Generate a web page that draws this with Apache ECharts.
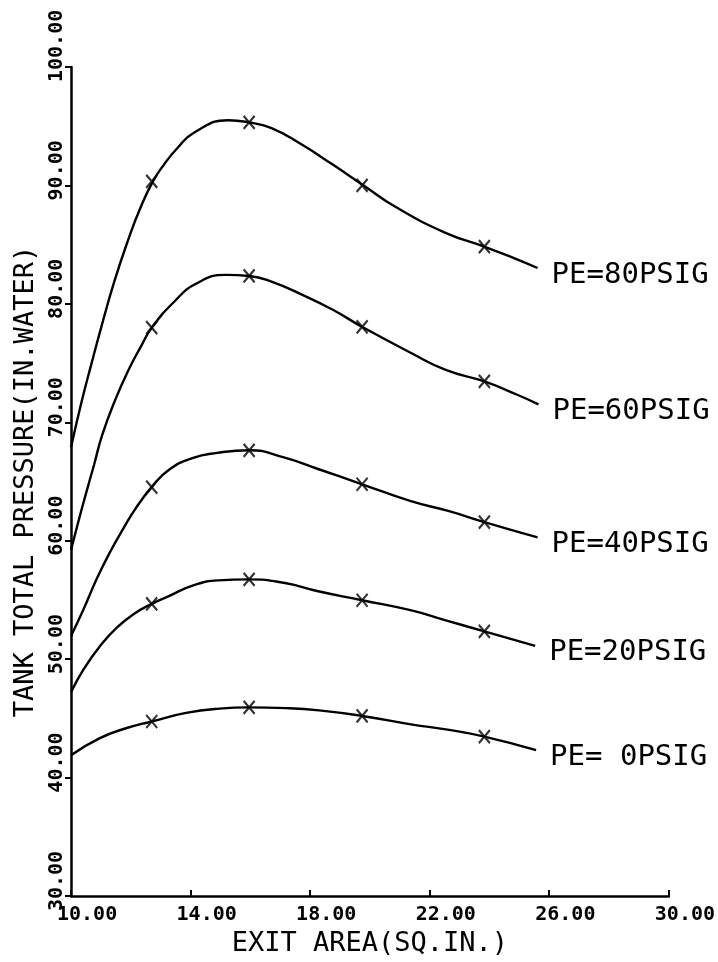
<!DOCTYPE html>
<html><head><meta charset="utf-8">
<script src="https://cdn.jsdelivr.net/npm/echarts@6/dist/echarts.min.js"></script>
<style>html,body{margin:0;padding:0;background:#fff}#c{width:718px;height:962px}</style>
</head><body><div id="c"></div>
<script>
// Tick values
const xTicks = [10, 14, 18, 22, 26, 30];
const yMin = 30, yMax = 100, yStep = 10;

// Series names (curve labels)
const names = ['PE=80PSIG', 'PE=60PSIG', 'PE=40PSIG', 'PE=20PSIG', 'PE= 0PSIG'];

// Curve traces (exit area, tank pressure)
const x80 = [10.00, 10.36, 10.69, 11.02, 11.45, 11.94, 12.32, 12.74, 13.09, 13.54, 14.15, 15.26, 15.96, 16.71, 17.72, 18.73, 19.79, 20.85, 22.53, 23.82, 24.88, 25.61];
const y80 = [67.89, 71.80, 75.00, 78.10, 81.90, 85.60, 88.10, 90.34, 91.69, 93.10, 94.51, 95.51, 95.32, 94.84, 93.45, 91.80, 90.00, 88.20, 86.00, 84.84, 83.80, 83.03];

const x60 = [10.00, 10.23, 10.50, 10.77, 11.04, 11.48, 11.92, 12.36, 12.70, 13.46, 14.18, 15.18, 15.96, 16.75, 17.76, 18.76, 19.74, 21.33, 22.56, 23.83, 24.91, 25.64];
const y60 = [59.23, 61.46, 63.98, 66.40, 68.90, 71.90, 74.40, 76.50, 77.99, 80.20, 81.70, 82.45, 82.36, 81.84, 80.74, 79.50, 78.06, 75.92, 74.40, 73.45, 72.35, 71.52];

const x40 = [10.00, 10.42, 10.85, 11.29, 11.73, 12.17, 12.70, 13.28, 14.06, 14.89, 15.96, 17.12, 18.24, 19.74, 21.37, 22.62, 23.83, 25.61];
const y40 = [51.96, 54.21, 56.73, 58.97, 60.94, 62.76, 64.53, 66.00, 66.98, 67.42, 67.64, 67.04, 66.08, 64.77, 63.34, 62.52, 61.58, 60.29];

const x20 = [10.00, 10.43, 10.98, 11.54, 12.09, 12.70, 13.31, 14.09, 14.92, 15.96, 17.16, 18.27, 19.74, 21.39, 22.51, 23.83, 25.53];
const y20 = [47.21, 49.18, 51.14, 52.68, 53.80, 54.67, 55.37, 56.23, 56.66, 56.74, 56.43, 55.74, 54.98, 54.12, 53.30, 52.35, 51.12];

const x0 = [10.00, 10.95, 11.84, 12.70, 13.85, 14.96, 15.96, 17.19, 18.30, 19.74, 21.42, 22.54, 23.83, 25.56];
const y0 = [41.90, 43.32, 44.17, 44.74, 45.47, 45.83, 45.93, 45.87, 45.68, 45.21, 44.48, 44.08, 43.47, 42.32];

// Plotted data points (x marks)
const markX = [12.70, 15.96, 19.74, 23.83];
const mk80 = [90.34, 95.32, 90.00, 84.84];
const mk60 = [77.99, 82.36, 78.06, 73.45];
const mk40 = [64.53, 67.64, 64.77, 61.58];
const mk20 = [54.67, 56.74, 54.98, 52.35];
const mk0  = [44.74, 45.93, 45.21, 43.47];

const curves = [[x80, y80], [x60, y60], [x40, y40], [x20, y20], [x0, y0]];
const marks = [mk80, mk60, mk40, mk20, mk0];

const zip = (a, b) => a.map((v, i) => [v, b[i]]);
const MONO = 'DejaVu Sans Mono';

const series = [];
curves.forEach((c, i) => {
  series.push({
    name: names[i], type: 'line', data: zip(c[0], c[1]), smooth: 0.5,
    showSymbol: false, lineStyle: { color: '#000', width: 2.4 },
    endLabel: { show: true, formatter: '{a}', distance: 14, offset: [0, 7], fontFamily: MONO, fontSize: 29, color: '#000' },
    silent: true, z: 2
  });
});
marks.forEach((m, i) => {
  series.push({
    name: names[i] + ' pts', type: 'scatter', data: zip(markX, m),
    symbol: 'path://M0,0L10,12M10,0L0,12', symbolSize: [11, 13],
    itemStyle: { color: 'none', borderColor: '#000', borderWidth: 2.2 },
    silent: true, z: 3
  });
});

const chart = echarts.init(document.getElementById('c'), null, { renderer: 'canvas' });
chart.setOption({
  animation: false,
  backgroundColor: '#fff',
  grid: { left: 71, right: 48, top: 67, bottom: 60, containLabel: false },
  xAxis: {
    type: 'value', min: xTicks[0], max: xTicks[xTicks.length - 1],
    name: 'EXIT AREA(SQ.IN.)', nameLocation: 'middle', nameGap: 33,
    nameTextStyle: { fontFamily: MONO, fontSize: 27, color: '#000' },
    axisLine: { show: true, onZero: false, lineStyle: { color: '#000', width: 2.5 } },
    axisTick: { show: true, inside: true, length: 6, customValues: xTicks, lineStyle: { color: '#000', width: 2 } },
    axisLabel: {
      customValues: xTicks, formatter: v => v.toFixed(2),
      fontFamily: MONO, fontWeight: 'bold', fontSize: 20, color: '#000',
      align: 'left', padding: [0, 0, 0, -14], margin: 9,
      showMinLabel: true, showMaxLabel: true
    },
    splitLine: { show: false }
  },
  yAxis: {
    type: 'value', min: yMin, max: yMax, interval: yStep,
    name: 'TANK TOTAL PRESSURE(IN.WATER)', nameLocation: 'middle', nameGap: 28, nameRotate: 90,
    nameTextStyle: { fontFamily: MONO, fontSize: 27, color: '#000' },
    axisLine: { show: true, onZero: false, lineStyle: { color: '#000', width: 2.5 } },
    axisTick: { show: true, inside: false, length: 6, lineStyle: { color: '#000', width: 2 } },
    axisLabel: {
      formatter: v => v.toFixed(2), rotate: 90,
      fontFamily: MONO, fontWeight: 'bold', fontSize: 20, color: '#000',
      align: 'left', padding: [0, 0, 0, -15], margin: 4,
      showMinLabel: true, showMaxLabel: true
    },
    splitLine: { show: false }
  },
  series: series
});
</script>
</body></html>
